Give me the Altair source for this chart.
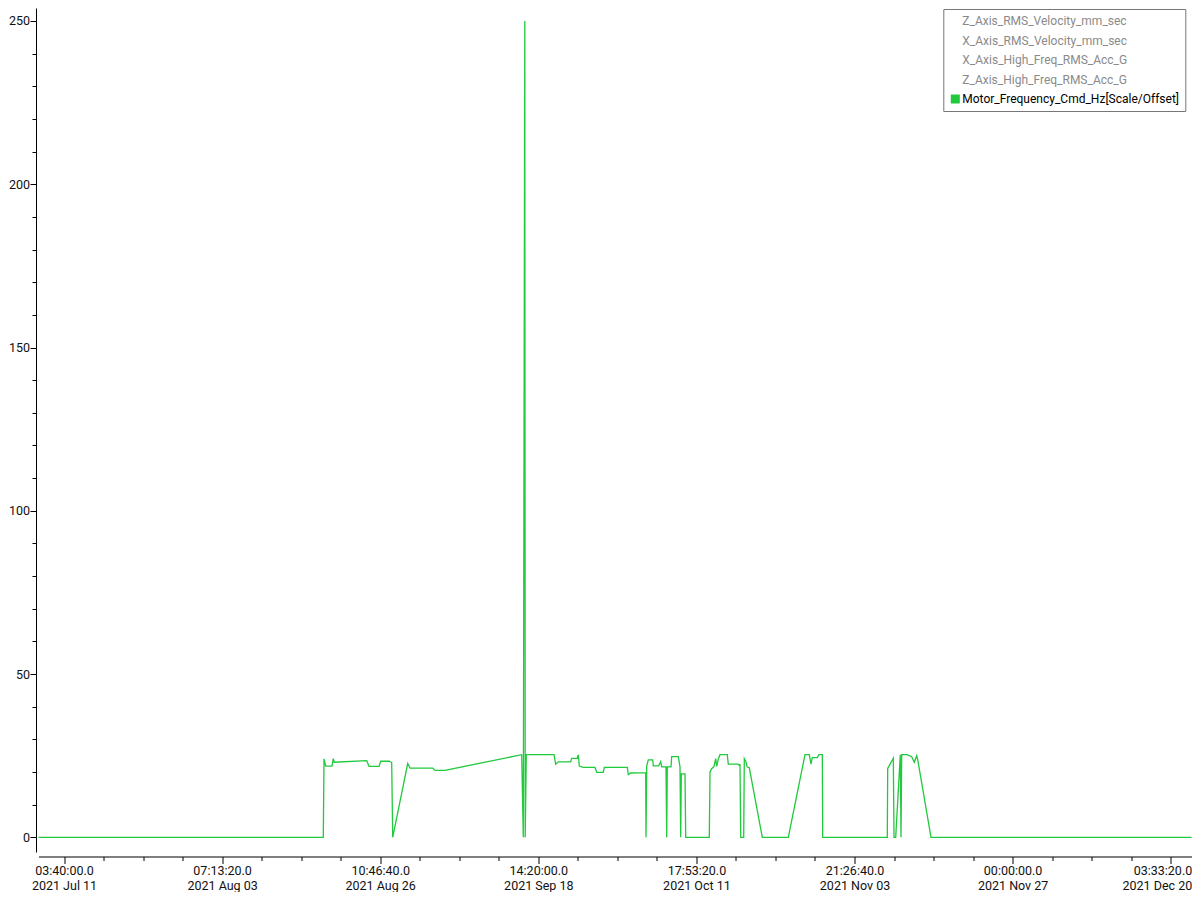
import altair as alt
import pandas as pd

# ---- data -------------------------------------------------------------
series_names = [
    "Z_Axis_RMS_Velocity_mm_sec",
    "X_Axis_RMS_Velocity_mm_sec",
    "X_Axis_High_Freq_RMS_Acc_G",
    "Z_Axis_High_Freq_RMS_Acc_G",
    "Motor_Frequency_Cmd_Hz[Scale/Offset]",
]
series_colors = ["transparent", "transparent", "transparent", "transparent", "#21c93c"]
visible_series = "Motor_Frequency_Cmd_Hz[Scale/Offset]"
line_color = "#21c93c"

# epoch seconds
times = [
    1625677400, 1629280100, 1629289000, 1629310500, 1629390200, 1629406600, 1629419300,
    1629829200, 1629858300, 1629984800, 1630006300, 1630115000, 1630145400, 1630158100,
    1630347800, 1630376900, 1630664100, 1630693200, 1630819700, 1631789900, 1631810100,
    1631829100, 1631834200, 1631848100,
    1632198500, 1632220000, 1632252900, 1632409800, 1632422400, 1632493200, 1632505900,
    1632518500, 1632569100, 1632717200, 1632738700, 1632822100, 1632834800, 1633125700,
    1633138400, 1633168800,
    1633358500, 1633362300, 1633371200, 1633391400, 1633447100, 1633454600, 1633523000,
    1633548300, 1633560900, 1633615300, 1633624200, 1633631700, 1633678600, 1633687400,
    1633770900, 1633792400, 1633801300, 1633808800, 1633855700, 1633864500,
    1634163000, 1634171900, 1634193400, 1634222500, 1634244000, 1634256700, 1634276900,
    1634298400, 1634390700, 1634403400, 1634526100, 1634542500, 1634551400, 1634560300,
    1634598200, 1634605800, 1634623500, 1634643700, 1634669000, 1634833500,
    1635162400, 1635373700, 1635428000, 1635449600, 1635466000, 1635529200, 1635550800,
    1635592500, 1635597600,
    1636414700, 1636419800, 1636490600, 1636499500, 1636521000, 1636579200, 1636588100,
    1636596900, 1636660200, 1636723400, 1636756300, 1636786700, 1636799300, 1636967600,
    1640262900,
]
values = [
    0, 0, 24.0, 21.8, 21.8, 24.1, 23.0,
    23.5, 21.7, 21.7, 23.3, 23.3, 22.9, 0,
    22.6, 21.2, 21.2, 20.5, 20.5, 25.3, 0,
    250, 0, 25.3,
    25.3, 22.4, 23.1, 23.1, 24.2, 24.2, 25.3,
    21.8, 21.4, 21.4, 19.9, 19.9, 21.4, 21.4,
    19.2, 19.7,
    19.8, 0, 21.9, 23.7, 23.7, 21.9, 21.9,
    23.2, 21.6, 21.6, 0, 21.6, 21.6, 24.7,
    24.7, 21.6, 0, 19.4, 19.4, 0,
    0, 20.0, 21.0, 21.7, 24.1, 21.7, 24.0,
    25.3, 25.3, 22.4, 22.4, 22.0, 22.4, 0,
    0, 24.1, 23.4, 21.5, 21.3, 0,
    0, 25.3, 25.3, 22.4, 24.4, 24.4, 25.3,
    25.3, 0,
    0, 21.1, 24.2, 0, 0, 25.3, 0,
    25.3, 25.3, 24.7, 23.0, 25.0, 23.8, 0,
    0,
]

x_major_ticks = [1626000000, 1628000000, 1630000000, 1632000000,
                 1634000000, 1636000000, 1638000000, 1640000000]
x_time_labels = ["03:40:00.0", "07:13:20.0", "10:46:40.0", "14:20:00.0",
                 "17:53:20.0", "21:26:40.0", "00:00:00.0", "03:33:20.0"]
x_date_labels = ["2021 Jul 11", "2021 Aug 03", "2021 Aug 26", "2021 Sep 18",
                 "2021 Oct 11", "2021 Nov 03", "2021 Nov 27", "2021 Dec 20"]
x_all_ticks = list(range(1626000000, 1640000001, 500000))
y_all_ticks = list(range(0, 251, 10))

x_domain = [1625677400, 1640262900]
y_domain = [-4.5, 253.98]

df = pd.DataFrame({"t": times, "v": values, "series": visible_series})
legend_df = pd.DataFrame({"series": series_names})

# ---- axes --------------------------------------------------------------
idx = "indexof([" + ",".join(str(v) for v in x_major_ticks) + "], datum.value)"
tl = "[" + ",".join("'%s'" % s for s in x_time_labels) + "]"
dl = "[" + ",".join("'%s'" % s for s in x_date_labels) + "]"
x_label_expr = f"{idx} >= 0 ? [{tl}[{idx}], {dl}[{idx}]] : ''"
last_tick_test = "datum.value == %d" % x_major_ticks[-1]

FONT = "Roboto"

x_axis = alt.Axis(
    values=x_all_ticks,
    labelExpr=x_label_expr,
    tickSize={"condition": {"test": "datum.value % 2000000 == 0", "value": 7}, "value": 4},
    offset=4.5,
    labelOverlap=False,
    labelFlush=False,
    labelAlign={"condition": {"test": last_tick_test, "value": "right"}, "value": "center"},
    labelOffset={"condition": {"test": last_tick_test, "value": 21}, "value": 0},
    labelBaseline="top",
    labelPadding=1,
    labelLineHeight=14.6,
    labelFont=FONT,
    labelFontSize=12.5,
    labelColor="#111111",
    domainColor="#000000",
    tickColor="#000000",
    grid=False,
    title=None,
)

y_axis = alt.Axis(
    values=y_all_ticks,
    labelExpr="datum.value % 50 == 0 ? datum.label : ''",
    tickSize={"condition": {"test": "datum.value % 50 == 0", "value": 6}, "value": 4},
    offset=2.5,
    labelOverlap=False,
    labelFlush=False,
    labelPadding=0.5,
    labelFont=FONT,
    labelFontSize=12.5,
    labelColor="#111111",
    domainColor="#000000",
    tickColor="#000000",
    grid=False,
    title=None,
)

color_scale = alt.Scale(domain=series_names, range=series_colors)

legend = alt.Legend(
    orient="none",
    legendX=904.8,
    legendY=1,
    title=None,
    symbolType="square",
    symbolSize=81,
    symbolStrokeWidth=0,
    symbolOpacity=1,
    labelFont=FONT,
    labelFontSize=12,
    labelColor=alt.ExprRef(expr=f"datum.value == '{visible_series}' ? '#000000' : '#8a8a8a'"),
    labelOffset=1,
    labelLimit=400,
    rowPadding=7.5,
    padding=6,
    strokeColor="#777777",
    fillColor="#ffffff",
)

line = alt.Chart(df).mark_line(strokeWidth=1.3, interpolate="linear", color=line_color).encode(
    x=alt.X("t:Q", scale=alt.Scale(domain=x_domain, nice=False, zero=False), axis=x_axis),
    y=alt.Y("v:Q", scale=alt.Scale(domain=y_domain, nice=False, zero=False), axis=y_axis),
)

legend_layer = alt.Chart(legend_df).transform_filter("false").mark_square(size=81, opacity=1).encode(
    color=alt.Color("series:N", scale=color_scale, legend=legend),
)

chart = alt.layer(line, legend_layer).properties(
    width=1153,
    height=844,
    autosize=alt.AutoSizeParams(type="none"),
    padding={"left": 30.5, "top": 0, "right": 0.5, "bottom": 40},
    background="white",
).configure_view(strokeWidth=0)

chart.save("out.html", embed_options={"renderer": "svg", "actions": False})
